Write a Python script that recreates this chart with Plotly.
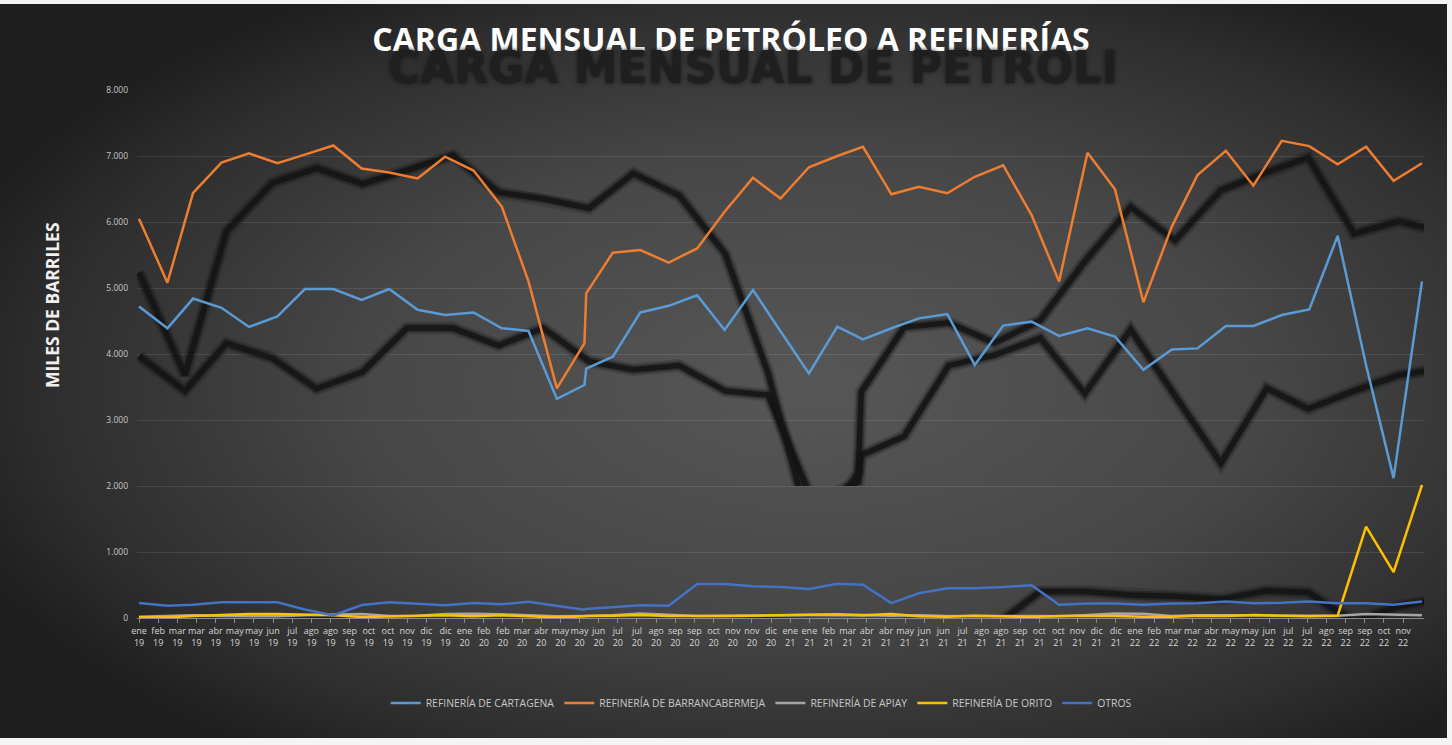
import base64
import pandas as pd
import plotly.graph_objects as go

# ---------------- data ----------------
fechas = list(pd.date_range("2019-01-01", "2022-11-01", freq="MS").strftime("%Y-%m-%d"))
fechas.insert(fechas.index("2020-05-01") + 1, "2020-05-03")

cartagena = [4720, 4390, 4840, 4700, 4410, 4570, 4985, 4985, 4820, 4985, 4670, 4590,
             4630, 4390, 4350, 3320, 3530, 3780, 3960, 4630, 4730, 4890, 4365, 4970, 4345,
             3705, 4415, 4220, 4390, 4540, 4605, 3835, 4430, 4490, 4275, 4390, 4265,
             3760, 4070, 4085, 4425, 4425, 4590, 4675, 5790, 3830, 2120, 5100]
barrancabermeja = [6050, 5080, 6440, 6900, 7040, 6890, 7020, 7160, 6810, 6750, 6660, 6990,
                   6780, 6230, 5100, 3480, 4160, 4920, 5535, 5575, 5385, 5600, 6155, 6670, 6355,
                   6830, 7000, 7140, 6420, 6535, 6435, 6685, 6860, 6105, 5100, 7050, 6495,
                   4785, 5930, 6710, 7080, 6550, 7230, 7150, 6875, 7140, 6625, 6890]
apiay = [20, 25, 40, 30, 30, 25, 40, 45, 60, 30, 35, 60,
         65, 55, 40, 25, 30, 30, 40, 70, 45, 30, 35, 40, 40,
         45, 40, 45, 35, 40, 30, 35, 30, 30, 25, 45, 70,
         65, 30, 40, 45, 40, 35, 30, 35, 60, 45, 40]
orito = [10, 10, 30, 50, 60, 60, 55, 40, 15, 25, 35, 40,
         25, 40, 25, 10, 25, 30, 35, 45, 30, 25, 30, 35, 40,
         40, 55, 40, 60, 25, 20, 35, 25, 15, 30, 35, 30,
         20, 20, 35, 30, 45, 30, 25, 35, 1385, 695, 2015]
otros = [227, 187, 202, 237, 237, 237, 130, 40, 197, 237, 217, 192,
         227, 207, 247, 187, 126, 135, 162, 192, 187, 515, 515, 480, 470,
         440, 520, 505, 225, 375, 450, 450, 470, 495, 200, 220, 220,
         200, 220, 225, 250, 225, 230, 250, 225, 225, 200, 250]

nombres = ["REFINERÍA DE CARTAGENA", "REFINERÍA DE BARRANCABERMEJA",
           "REFINERÍA DE APIAY", "REFINERÍA DE ORITO", "OTROS"]
colores = ["#5B9BD5", "#ED7D31", "#A5A5A5", "#FFC000", "#4472C4"]

meses_eje = ["ene", "feb", "mar", "mar", "abr", "may", "may", "jun", "jul", "ago", "ago", "sep", "oct", "oct", "nov", "dic", "dic",
             "ene", "feb", "feb", "mar", "abr", "may", "may", "jun", "jul", "jul", "ago", "sep", "sep", "oct", "nov", "nov", "dic",
             "ene", "ene", "feb", "mar", "abr", "abr", "may", "jun", "jun", "jul", "ago", "ago", "sep", "oct", "oct", "nov", "dic", "dic",
             "ene", "feb", "mar", "mar", "abr", "may", "may", "jun", "jul", "jul", "ago", "sep", "sep", "oct", "nov"]
anios_eje = ["19"] * 17 + ["20"] * 17 + ["21"] * 18 + ["22"] * 15

titulo = "CARGA MENSUAL DE PETRÓLEO A REFINERÍAS"
titulo_sombra = "CARGA MENSUAL DE PETROLI"
titulo_y = "MILES DE BARRILES"

series = [cartagena, barrancabermeja, apiay, orito, otros]

# ---------------- layout geometry ----------------
W, H = 1452, 745
ML, MR, MT, MB = 137, 28, 90, 127
PW, PH = W - ML - MR, H - MT - MB
YMAX = 8000
Y_CORTE = 2000                  # lower clip of the big series' shadows

t = pd.to_datetime(fechas)
t0 = t[0]
x_range = [t0 - pd.Timedelta(days=2.2), t[-1] + pd.Timedelta(days=2.2)]

# ---------------- perspective shadow (Excel-like effect) ----------------
ESC_X, ESC_Y = 1.615, 1.6       # shadow scale
OFF = 12 * YMAX / PH            # anchor 12px above each series' top
def sombra_x(tt):
    return t0 + (tt - t0) * ESC_X
def sombra_y(vals):
    v0 = max(vals) + OFF
    return [v0 + ESC_Y * (v - v0) for v in vals]

fig = go.Figure()
xs = sombra_x(t)
capas = [(13, "rgba(18,18,18,0.18)"), (9, "rgba(18,18,18,0.35)"), (5.5, "rgba(20,20,20,0.85)")]
for i, vals in enumerate(series):
    ys = sombra_y(vals)
    grande = i < 2
    for wdt, col in capas:
        fig.add_trace(go.Scatter(x=xs, y=ys, mode="lines", line=dict(color=col, width=wdt),
                                 xaxis="x2" if grande else "x", yaxis="y2" if grande else "y",
                                 hoverinfo="skip", showlegend=False))

for nom, vals, col in zip(nombres, series, colores):
    fig.add_trace(go.Scatter(x=t, y=vals, name=nom, mode="lines", xaxis="x3", yaxis="y3",
                             line=dict(color=col, width=2.5)))

# tick positions: evenly spaced labels along the date axis
paso = pd.Timedelta(days=20.9)
tickvals = [t0 + k * paso for k in range(len(meses_eje))]
ticktext = [f"{m}<br>{a}" for m, a in zip(meses_eje, anios_eje)]

# background: radial gradient as an svg image
svg = f'''<svg xmlns="http://www.w3.org/2000/svg" width="{W}" height="{H}" viewBox="0 0 {W} {H}" preserveAspectRatio="none">
<defs><radialGradient id="g" cx="0.56" cy="0.52" r="0.62">
<stop offset="0" stop-color="#575757"/><stop offset="0.5" stop-color="#474747"/><stop offset="0.85" stop-color="#2e2e2e"/><stop offset="1" stop-color="#1f1f1f"/>
</radialGradient></defs>
<rect width="{W}" height="{H}" fill="#f4f4f4"/>
<rect x="0" y="4" width="{W-5}" height="{H-11}" fill="url(#g)"/></svg>'''
src = "data:image/svg+xml;base64," + base64.b64encode(svg.encode()).decode()

hidden = dict(visible=False, showgrid=False, zeroline=False)
fig.update_layout(
    width=W, height=H,
    margin=dict(l=ML, r=MR, t=MT, b=MB),
    paper_bgcolor="#2a2a2a", plot_bgcolor="rgba(0,0,0,0)",
    separators=",.",
    images=[dict(source=src, xref="paper", yref="paper",
                 x=-ML / PW, y=1 + MT / PH, sizex=W / PW, sizey=H / PH,
                 xanchor="left", yanchor="top", sizing="stretch", layer="below")],
    title=dict(text=titulo, x=731 / W, xanchor="center", y=1 - 40 / H, yanchor="middle",
               font=dict(family="Open Sans", size=32, color="#ffffff", weight=700)),
    showlegend=True,
    legend=dict(orientation="h", x=0.485, xanchor="center", y=-0.161, yanchor="middle",
                font=dict(family="Open Sans", size=10.4, color="#c8c8c8"),
                bgcolor="rgba(0,0,0,0)", itemwidth=30),
    xaxis=dict(type="date", range=x_range, domain=[0, 1], tickmode="array", tickvals=tickvals, ticktext=ticktext,
               tickangle=0, ticks="outside", ticklen=4, tickcolor="#8a8a8a",
               showline=True, linecolor="#8a8a8a", linewidth=1, showgrid=False, zeroline=False,
               tickfont=dict(family="Open Sans", size=9, color="#d6d6d6")),
    yaxis=dict(range=[0, YMAX], domain=[0, 1], dtick=1000, tickformat=",d", showgrid=True,
               gridcolor="rgba(255,255,255,0.10)", gridwidth=1, zeroline=False, showline=False,
               ticks="", ticklabelstandoff=8,
               tickfont=dict(family="Open Sans", size=8.5, color="#c8c8c8")),
    xaxis2=dict(type="date", range=x_range, domain=[0, 1], anchor="y2", **hidden),
    yaxis2=dict(range=[Y_CORTE, YMAX], domain=[Y_CORTE / YMAX, 1], anchor="x2", **hidden),
    xaxis3=dict(type="date", range=x_range, domain=[0, 1], anchor="y3", **hidden),
    yaxis3=dict(range=[0, YMAX], domain=[0, 1], anchor="x3", **hidden),
    annotations=[
        dict(text=titulo_sombra, xref="paper", yref="paper",
             x=(386 - ML) / PW, xanchor="left", y=1 + (MT - 68) / PH, yanchor="middle",
             showarrow=False,
             font=dict(family="DejaVu Sans", size=44, color="#1f1f1f", weight=700,
                       shadow="0px 0px 4px #161616")),
        dict(text=titulo_y, xref="paper", yref="paper", textangle=-90,
             x=(52 - ML) / PW, xanchor="center", y=(618 - 305) / PH, yanchor="middle",
             showarrow=False,
             font=dict(family="Open Sans", size=17.5, color="#f0f0f0", weight=700)),
    ],
)

fig.write_html("out.html", config={"displayModeBar": False},
               post_script="document.body.style.margin='0';")
